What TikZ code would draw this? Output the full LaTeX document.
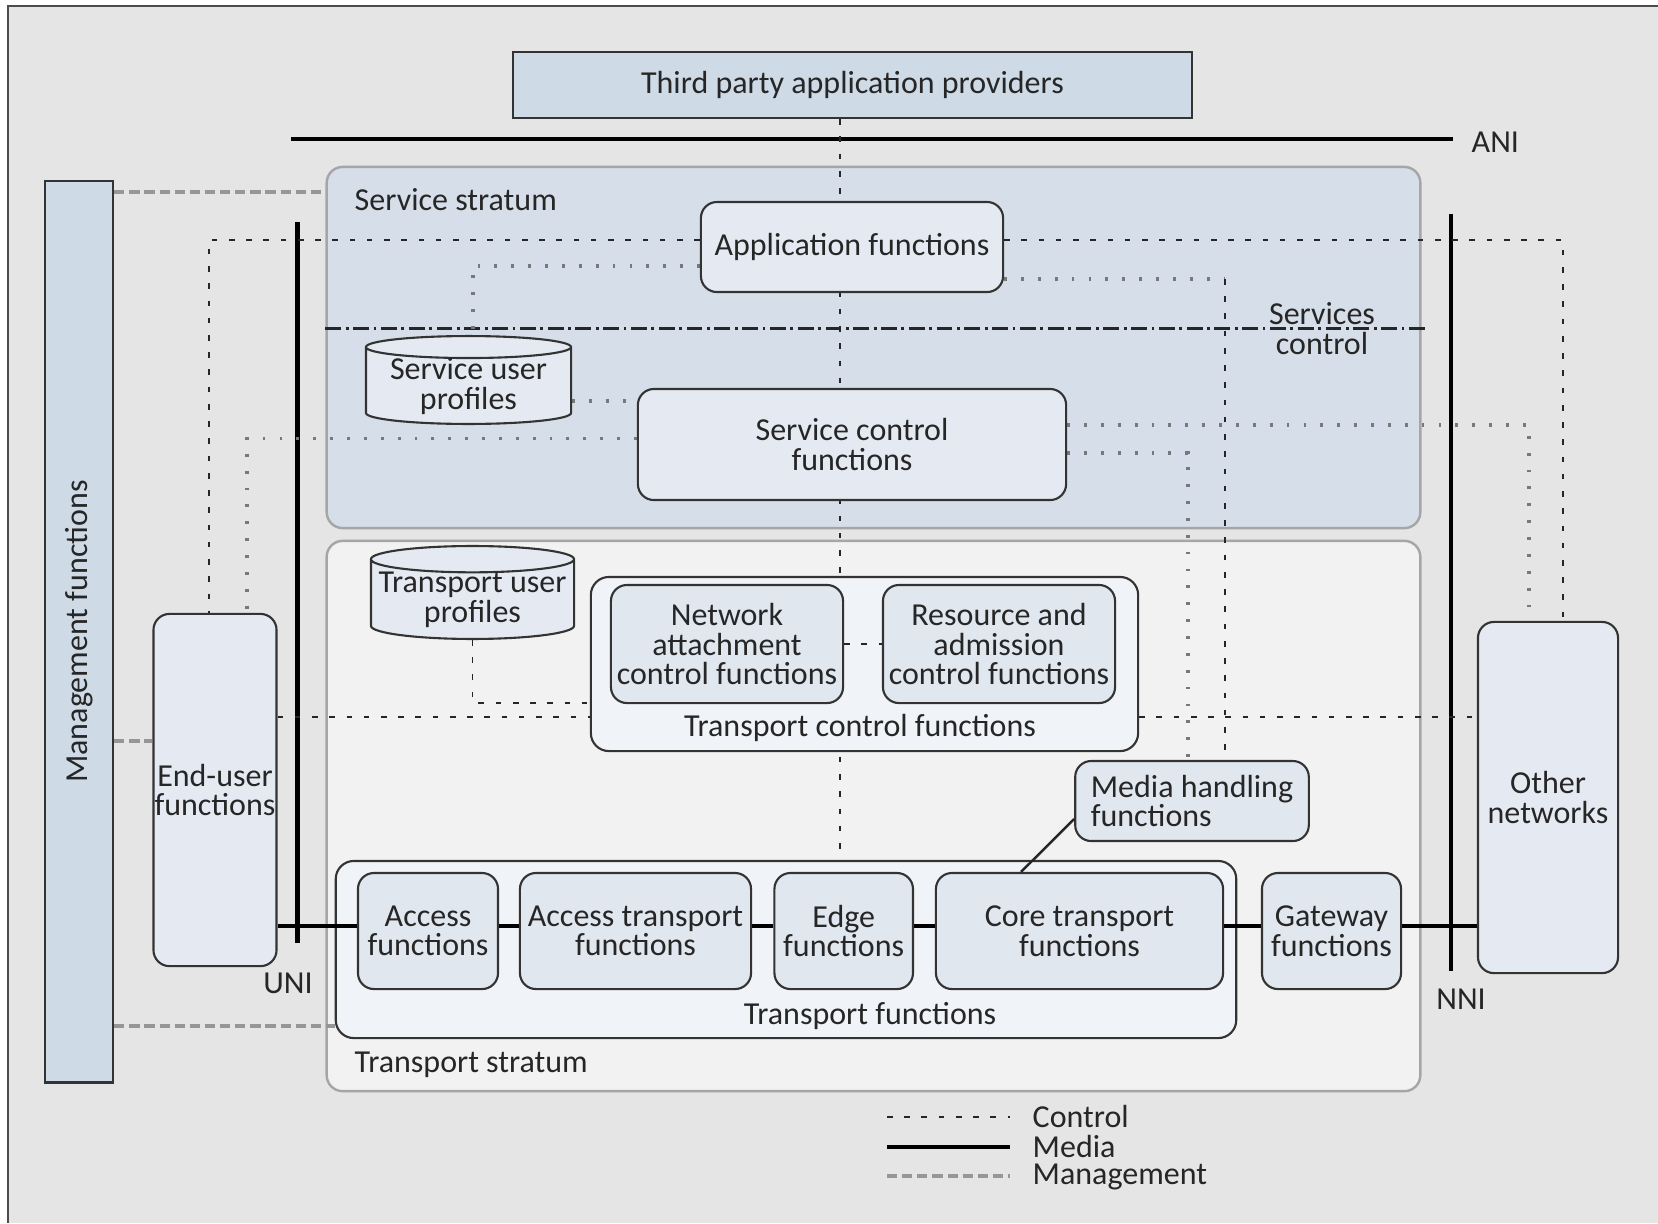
\documentclass[tikz,border=0pt]{standalone}
\usepackage{fontspec}
\setmainfont{Carlito}
\usetikzlibrary{shapes.geometric}

\definecolor{bggray}{RGB}{229,229,229}
\definecolor{hdrblue}{RGB}{206,218,230}
\definecolor{svcblue}{RGB}{214,223,233}
\definecolor{boxblue}{RGB}{229,234,242}
\definecolor{trgray}{RGB}{242,242,242}
\definecolor{grpfill}{RGB}{240,243,247}
\definecolor{fnblue}{RGB}{225,231,239}
\definecolor{dotgray}{RGB}{120,120,120}
\definecolor{mgmtgray}{RGB}{150,150,150}

\pgfdeclarelayer{back}
\pgfdeclarelayer{wires}
\pgfsetlayers{back,wires,main}

\begin{document}
\begin{tikzpicture}[x=0.01cm, y=-0.01cm,
        font=\fontsize{9.1}{8.4}\selectfont,
        every node/.style={text=black!85},
        lbl/.style={inner sep=0pt},
        hdr/.style={draw=black!80, line width=0.7pt, fill=hdrblue, inner sep=0pt},
        stratum/.style={draw=black!35, line width=0.7pt, rounded corners=0.16cm, inner sep=0pt},
        fbox/.style={draw=black!80, line width=0.6pt, fill=fnblue, rounded corners=0.16cm, align=center, inner sep=0pt, minimum height=1.16cm},
        grp/.style={draw=black!80, line width=0.6pt, fill=grpfill, rounded corners=0.18cm, inner sep=0pt},
        cyl/.style={cylinder, shape border rotate=90, aspect=0.14, draw=black!80, line width=0.6pt, fill=boxblue, align=center, inner xsep=0pt, inner ysep=-0.4pt, anchor=south},
        ctrl/.style={black!85, line width=0.55pt, dash pattern=on 1.6pt off 3.3pt},
        ctrlg/.style={dotgray, line width=0.95pt, dash pattern=on 0.8pt off 4pt},
        mgmtln/.style={mgmtgray, line width=1.1pt, dash pattern=on 2.9pt off 1.4pt},
        media/.style={black, line width=1.2pt},
        sepline/.style={black!85, line width=0.7pt, dash pattern=on 4.5pt off 1.3pt on 0.8pt off 1.3pt}]

    \useasboundingbox (0,0) rectangle (1658,1223);

    \begin{pgfonlayer}{back}
        \fill[bggray] (8,6) rectangle (1658,1223);
        \draw[black!70, line width=0.6pt] (8,1223) -- (8,6) -- (1658,6);
        \node[stratum, fill=svcblue, minimum width=10.93cm, minimum height=3.61cm] (sstr) at (873.5,347.5) {};
        \node[stratum, fill=trgray, minimum width=10.93cm, minimum height=5.5cm] (tstr) at (873.5,816) {};
    \end{pgfonlayer}

    % top and side blocks
    \node[hdr, minimum width=6.79cm, minimum height=0.66cm] (tpap) at (852.5,85) {Third party application providers};
    \node[hdr, rotate=90, minimum width=9.01cm, minimum height=0.68cm] (mgmt) at (79,631.5) {Management functions};

    % service stratum
    \node[lbl, anchor=west] (sstrlbl) at (354,200) {Service stratum};
    \node[fbox, fill=boxblue, minimum width=3.02cm, minimum height=0.9cm] (app) at (852,247) {Application functions};
    \node[fbox, fill=boxblue, minimum width=4.28cm, minimum height=1.11cm] (scf) at (852,444.5) {Service control\\functions};
    \node[cyl, minimum width=2.05cm, minimum height=0.6cm] (sup) at (468.5,425) {Service user\\profiles};
    \node[lbl, align=center] (svcctl) at (1322,328.5) {Services\\control};

    % transport stratum
    \node[lbl, anchor=west] (tstrlbl) at (354,1065) {Transport stratum};
    \node[cyl, minimum width=2.03cm, minimum height=0.6cm] (tup) at (472.5,640) {Transport user\\profiles};
    \node[grp, minimum width=5.47cm, minimum height=1.74cm] (tcf) at (864.5,664) {};
    \node[lbl] (tcflbl) at (860,728) {Transport control functions};
    \node[fbox, minimum width=2.32cm, minimum height=1.18cm] (nacf) at (727,644) {Network\\attachment\\control functions};
    \node[fbox, minimum width=2.32cm, minimum height=1.18cm] (racf) at (999,644) {Resource and\\admission\\control functions};
    \node[fbox, minimum width=2.335cm, minimum height=0.8cm, align=left] (mhf) at (1192,801) {Media handling\\functions};

    \node[grp, minimum width=9.0cm, minimum height=1.77cm] (tf) at (786,949.5) {};
    \node[lbl] (tflbl) at (870,1016) {Transport functions};
    \node[fbox, minimum width=1.40cm] (acc) at (428,931) {Access\\functions};
    \node[fbox, minimum width=2.31cm] (atf) at (635.5,931) {Access transport\\functions};
    \node[fbox, minimum width=1.385cm] (edge) at (843.7,931) {Edge\\functions};
    \node[fbox, minimum width=2.87cm] (ctf) at (1079.5,931) {Core transport\\functions};
    \node[fbox, minimum width=1.39cm] (gw) at (1331.5,931) {Gateway\\functions};

    % end points
    \node[fbox, fill=boxblue, minimum width=1.23cm, minimum height=3.52cm] (eu) at (215,790) {End-user\\functions};
    \node[fbox, fill=boxblue, minimum width=1.40cm, minimum height=3.51cm] (othn) at (1548,797.5) {Other\\networks};

    % reference points
    \coordinate (anil) at (291,139);
    \coordinate (anir) at (1453,139);
    \coordinate (unit) at (297.5,222);
    \coordinate (unib) at (297.5,943);
    \coordinate (nnit) at (1451,214);
    \coordinate (nnib) at (1451,971);
    \coordinate (mhbend) at (1225,279);
    \coordinate (medy) at (0,926);
    \node[lbl, anchor=west] (ani) at (1471,142) {ANI};
    \node[lbl] (uni) at (288,983) {UNI};
    \node[lbl] (nni) at (1461,999) {NNI};

    \begin{pgfonlayer}{wires}
        % interfaces
        \draw[media] (anil) -- (anir);
        \draw[media] (unit) -- (unib);
        \draw[media] (nnit) -- (nnib);
        \draw[sepline] (sstr.west |- 0,328.5) -- (1427,328.5);

        % control
        \draw[ctrl] (tpap.south -| 840,0) -- (tf.north -| 840,0);
        \draw[ctrl] (app.west |- 0,240) -| (eu.north -| 209,0);
        \draw[ctrl] (app.east |- 0,240) -| (othn.north -| 1563,0);
        \draw[ctrlg] (app.west |- 0,266) -| (sup.north -| 473,0);
        \draw[ctrlg] (sup.east |- 0,401) -- (scf.west |- 0,401);
        \draw[ctrlg] (scf.west |- 0,438.5) -| (eu.north -| 247,0);
        \draw[ctrlg] (app.east |- mhbend) -- (mhbend);
        \draw[ctrl] (mhbend) -- (mhf.north -| mhbend);
        \draw[ctrlg] (scf.east |- 0,425) -| (othn.north -| 1529,0);
        \draw[ctrlg] (scf.east |- 0,453) -| (mhf.north -| 1188,0);
        \draw[ctrl] (eu.east |- 0,717) -- (tcf.west |- 0,717);
        \draw[ctrl] (tcf.east |- 0,717) -- (othn.west |- 0,717);
        \draw[ctrl] (tup.south) |- (tcf.west |- 0,703);

        % management
        \draw[mgmtln] (mgmt.south |- 0,192) -- (sstr.west |- 0,192);
        \draw[mgmtln] (mgmt.south |- 0,741) -- (eu.west |- 0,741);
        \draw[mgmtln] (mgmt.south |- 0,1026) -- (tf.west |- 0,1026);
    \end{pgfonlayer}

    % media path
    \draw[media] (eu.east |- medy) -- (acc.west |- medy);
    \draw[media] (acc.east |- medy) -- (atf.west |- medy);
    \draw[media] (atf.east |- medy) -- (edge.west |- medy);
    \draw[media] (edge.east |- medy) -- (ctf.west |- medy);
    \draw[media] (ctf.east |- medy) -- (gw.west |- medy);
    \draw[media] (gw.east |- medy) -- (othn.west |- medy);
    \draw[ctrl] (nacf.east) -- (racf.west);
    \draw[black!85, line width=0.7pt] (mhf.west |- 0,819) -- (ctf.north -| 1021,0);

    % legend
    \coordinate (lgl) at (887,0);
    \coordinate (lgr) at (1010,0);
    \draw[ctrl] (lgl |- 0,1117) -- (lgr |- 0,1117);
    \draw[media] (lgl |- 0,1147) -- (lgr |- 0,1147);
    \draw[mgmtln] (lgl |- 0,1176) -- (lgr |- 0,1176);
    \node[lbl, anchor=west] (lgctrl) at (1032,1116) {Control};
    \node[lbl, anchor=west] (lgmedia) at (1032,1146) {Media};
    \node[lbl, anchor=west] (lgmgmt) at (1032,1177) {Management};
\end{tikzpicture}
\end{document}
